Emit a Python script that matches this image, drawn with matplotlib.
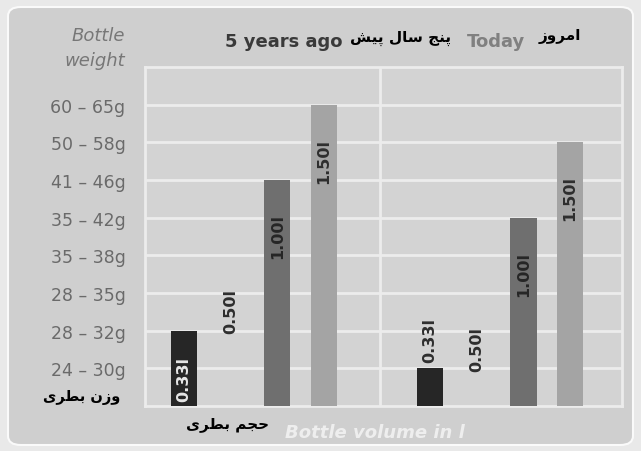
import numpy as np
import matplotlib.pyplot as plt
from matplotlib.patches import FancyBboxPatch

# Data
weight_ranges = ['24 – 30g', '28 – 32g', '28 – 35g', '35 – 38g',
                 '35 – 42g', '41 – 46g', '50 – 58g', '60 – 65g']
volumes = ['0.33l', '0.50l', '1.00l', '1.50l']
weight_5y = ['28 – 32g', '35 – 38g', '41 – 46g', '60 – 65g']
weight_today = ['24 – 30g', '28 – 35g', '35 – 42g', '50 – 58g']

# Persian text, pre-shaped (presentation forms, visual order)
fa_5y = '\uFEB6\uFBFF\uFB58 \uFEDD\uFE8E\uFEB3 \uFE9E\uFEE8\uFB58'      # پنج سال پیش
fa_today = '\uFEAF\uFEED\uFEAE\uFEE3\uFE8D'                           # امروز
fa_weight = '\uFBFC\uFEAE\uFEC4\uFE91 \uFEE5\uFEAF\uFEED'             # وزن بطری
fa_volume = '\uFBFC\uFEAE\uFEC4\uFE91 \uFEE2\uFEA0\uFEA3'             # حجم بطری

# Styling
bar_colors = ['#262626', 'none', '#6f6f6f', '#a4a4a4']
label_colors = ['#e6e6e6', '#2e2e2e', '#262626', '#2e2e2e']
panel_bg = '#cfcfcf'
plot_bg = '#d3d3d3'
grid_c = '#ececec'

fig = plt.figure(figsize=(6.41, 4.52), dpi=100)
fig.patch.set_facecolor('#e9e9e9')

# rounded panel
panel = FancyBboxPatch((8 / 641, 6 / 452), 625 / 641, 438 / 452,
                       boxstyle='round,pad=0,rounding_size=0.02',
                       transform=fig.transFigure, facecolor=panel_bg,
                       edgecolor='#fafafa', linewidth=1.5, zorder=-5)
fig.add_artist(panel)

ax = fig.add_axes([145 / 641, 45 / 452, 477 / 641, 339 / 452])
ax.set_zorder(2)
ax.set_facecolor(plot_bg)

levels_5y = [weight_ranges.index(w) + 1 for w in weight_5y]
levels_today = [weight_ranges.index(w) + 1 for w in weight_today]

x5 = np.arange(len(volumes))
xt = x5 + 5.27
width = 0.56

for xs, levels in [(x5, levels_5y), (xt, levels_today)]:
    ax.bar(xs, levels, width=width, color=bar_colors, zorder=3)
    for i, (x, h) in enumerate(zip(xs, levels)):
        if h >= 3:
            y, va, c = h - 0.88, 'top', label_colors[i]
        elif h == 2:
            y, va, c = 0.12, 'bottom', label_colors[i]
        else:
            y, va, c = h + 0.18, 'bottom', '#2e2e2e'
        ax.text(x, y, volumes[i], rotation=90, ha='center', va=va,
                fontsize=11.5, fontweight='bold', color=c, zorder=4)

ax.set_xlim(-0.835, 9.38)
ax.set_ylim(0, 9)
ax.set_yticks(np.arange(1, len(weight_ranges) + 1))
ax.set_yticklabels(weight_ranges, fontsize=12.5, color='#6a6a6a')
ax.set_xticks([])
ax.tick_params(axis='y', length=0, pad=14)
ax.grid(axis='y', color=grid_c, linewidth=2, zorder=1)
ax.axvline(4.2, color=grid_c, linewidth=2, zorder=1)
for s in ax.spines.values():
    s.set_color(grid_c)
    s.set_linewidth(2)

# headings
fig.text(125 / 641, 1 - 36 / 452, 'Bottle', ha='right', va='center',
         fontsize=13, style='italic', color='#777777')
fig.text(125 / 641, 1 - 61 / 452, 'weight', ha='right', va='center',
         fontsize=13, style='italic', color='#777777')
fig.text(284 / 641, 1 - 42 / 452, '5 years ago', ha='center', va='center',
         fontsize=13, fontweight='bold', color='#3a3a3a')
fig.text(401 / 641, 1 - 38 / 452, fa_5y, ha='center', va='center',
         fontsize=11, fontweight='bold', color='black', family='DejaVu Sans')
fig.text(496 / 641, 1 - 42 / 452, 'Today', ha='center', va='center',
         fontsize=13, fontweight='bold', color='#808080')
fig.text(560 / 641, 1 - 37 / 452, fa_today, ha='center', va='center',
         fontsize=11, fontweight='bold', color='black', family='DejaVu Sans')

fig.text(82 / 641, 1 - 398 / 452, fa_weight, ha='center', va='center',
         fontsize=10.5, fontweight='bold', color='black', family='DejaVu Sans')
fig.text(227 / 641, 1 - 425 / 452, fa_volume, ha='center', va='center',
         fontsize=11, fontweight='bold', color='black', family='DejaVu Sans')
fig.text(375 / 641, 1 - 433 / 452, 'Bottle volume in l', ha='center',
         va='center', fontsize=13, style='italic', fontweight='bold',
         color='#f4f4f4', alpha=0.85)

fig.savefig('out.png', dpi=100, facecolor=fig.get_facecolor())
